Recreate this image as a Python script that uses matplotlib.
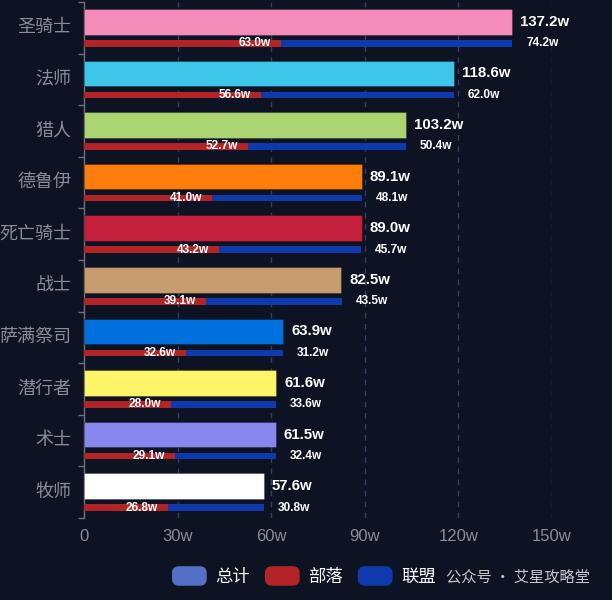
import matplotlib
matplotlib.use("Agg")
import matplotlib.pyplot as plt
from matplotlib.patches import Patch, FancyBboxPatch
from matplotlib.legend_handler import HandlerPatch
from matplotlib import transforms
import numpy as np

plt.rcParams['font.family'] = ['Liberation Sans', 'Noto Sans CJK SC', 'DejaVu Sans']

classes = ["圣骑士", "法师", "猎人", "德鲁伊", "死亡骑士", "战士", "萨满祭司", "潜行者", "术士", "牧师"]
total = [137.2, 118.6, 103.2, 89.1, 89.0, 82.5, 63.9, 61.6, 61.5, 57.6]
horde = [63.0, 56.6, 52.7, 41.0, 43.2, 39.1, 32.6, 28.0, 29.1, 26.8]
alliance = [74.2, 62.0, 50.4, 48.1, 45.7, 43.5, 31.2, 33.6, 32.4, 30.8]
class_colors = ["#f48cba", "#3fc7eb", "#abd473", "#ff7d0a", "#c41f3b",
                "#c79c6e", "#0070de", "#fff569", "#8787ed", "#ffffff"]
xticks = [0, 30, 60, 90, 120, 150]
xtick_labels = ["0", "30w", "60w", "90w", "120w", "150w"]
legend_names = ["总计", "部落", "联盟"]
legend_colors = ["#5470c6", "#b22426", "#0e3aae"]

BG = "#0e1324"
HORDE_C = "#b22426"
ALLI_C = "#0e3aae"
GRID_C = "#34405e"
AXIS_C = "#6e7280"
LABEL_C = "#8a8d96"

W, H = 612, 600
fig = plt.figure(figsize=(W / 100, H / 100), dpi=100, facecolor=BG)
ax = fig.add_axes([84 / W, 1 - 518 / H, (552 - 84) / W, (518 - 2) / H])
ax.set_facecolor(BG)

n = len(classes)
y = np.arange(n)
tot_off, tot_h = -0.117, 0.494
sub_off, sub_h = 0.30, 0.13

ax.barh(y + tot_off, total, height=tot_h, color=class_colors,
        edgecolor=(0, 0, 0, 0.25), linewidth=0.8, zorder=3)
ax.barh(y + sub_off, horde, height=sub_h, color=HORDE_C, zorder=3)
ax.barh(y + sub_off, alliance, left=horde, height=sub_h, color=ALLI_C, zorder=3)

# labels
def px_offset(dx):
    return transforms.offset_copy(ax.transData, fig=fig, x=dx * 0.72, y=0, units='points')

tr_tot = px_offset(8)
tr_all = px_offset(14)
tr_hor = px_offset(-10)
for i in range(n):
    ax.text(total[i], y[i] + tot_off, f"{total[i]:.1f}w", transform=tr_tot,
            color="white", fontsize=10.8, fontweight="bold", va="center", ha="left", zorder=5)
    stack_end = horde[i] + alliance[i]
    ax.text(stack_end, y[i] + sub_off, f"{alliance[i]:.1f}w", transform=tr_all,
            color="white", fontsize=8.6, fontweight="bold", va="center", ha="left", zorder=5)
    ax.text(horde[i], y[i] + sub_off, f"{horde[i]:.1f}w", transform=tr_hor,
            color="white", fontsize=8.6, fontweight="bold", va="center", ha="right", zorder=5)

ax.set_xlim(0, 150)
ax.set_ylim(n - 0.5, -0.5)

ax.set_xticks(xticks)
ax.set_xticklabels(xtick_labels)
ax.tick_params(axis='x', length=0, pad=8, labelsize=12, labelcolor=LABEL_C)
for xv in xticks[1:]:
    ax.axvline(xv, color=GRID_C, linewidth=1, linestyle=(0, (4, 4)), zorder=1)

ax.set_yticks(np.arange(-0.5, n, 1.0))
ax.set_yticklabels([])
ax.set_yticks(y - 0.05, minor=True)
ax.set_yticklabels(classes, minor=True, family=['Noto Sans CJK SC', 'DejaVu Sans'])
ax.tick_params(axis='y', which='major', length=4, width=1, color=AXIS_C, direction='out')
ax.tick_params(axis='y', which='minor', length=0, pad=9, labelsize=13, labelcolor=LABEL_C)

for s in ['top', 'right', 'bottom']:
    ax.spines[s].set_visible(False)
ax.spines['left'].set_color(AXIS_C)
ax.spines['left'].set_linewidth(1)


class RoundHandler(HandlerPatch):
    def create_artists(self, legend, orig_handle, xdescent, ydescent, width, height, fontsize, trans):
        p = FancyBboxPatch((-xdescent, -ydescent), width, height,
                           boxstyle="round,pad=0,rounding_size=5",
                           fc=orig_handle.get_facecolor(), ec='none', transform=trans)
        return [p]


handles = [Patch(facecolor=c, label=l) for c, l in zip(legend_colors, legend_names)]
leg = fig.legend(handles=handles, loc='center', bbox_to_anchor=(304 / W, 1 - 576 / H),
                 ncol=3, frameon=False,
                 handlelength=2.0, handleheight=1.35, handletextpad=0.5, columnspacing=0.85,
                 handler_map={Patch: RoundHandler()},
                 prop={'family': ['Noto Sans CJK SC', 'DejaVu Sans'], 'size': 12.5})
for t in leg.get_texts():
    t.set_color("white")

fig.text(446 / W, 1 - 577 / H, "公众号 · 艾星攻略堂", color="#c8c8cc", fontsize=11,
         family=['Noto Sans CJK SC', 'DejaVu Sans'], ha='left', va='center')

fig.savefig("out.png", dpi=100, facecolor=BG)
